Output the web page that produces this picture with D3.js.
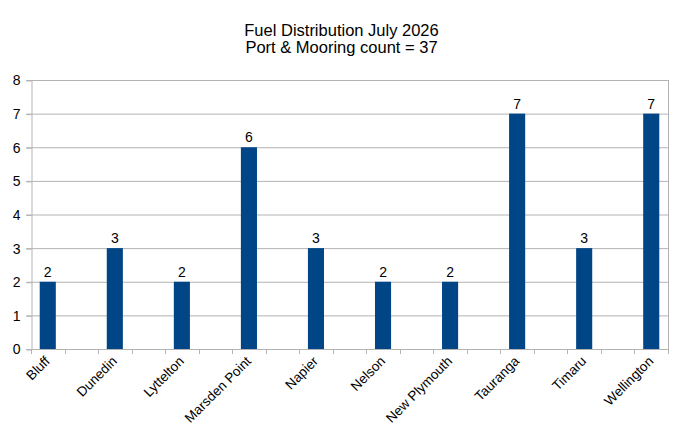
<!DOCTYPE html>
<html>
<head>
<meta charset="utf-8">
<title>Fuel Distribution July 2026</title>
<style>
body {
  margin: 0;
  background: #fff;
}

svg {
  display: block;
  font-family: "Liberation Sans", Arial, sans-serif;
}

.grid line {
  stroke: #b3b3b3;
  stroke-width: 1px;
}

.axis path, .axis line {
  stroke: #b3b3b3;
}

.axis text {
  fill: #000;
}
</style>
<script src="https://d3js.org/d3.v7.min.js"></script>
</head>
<body>
<div id="result"></div>
<script>
var ports = ['Bluff', 'Dunedin', 'Lyttelton', 'Marsden Point', 'Napier', 'Nelson', 'New Plymouth', 'Tauranga', 'Timaru', 'Wellington']
var counts = [2, 3, 2, 6, 3, 2, 2, 7, 3, 7]
var yTicks = [0, 1, 2, 3, 4, 5, 6, 7, 8]
var titleLines = ['Fuel Distribution July 2026', 'Port & Mooring count = 37']

var width = 683, height = 439
var margin = {top: 80, right: 15, bottom: 90, left: 31}

var svg = d3.select('#result').append('svg').attr('width', width).attr('height', height)

// the sheet has an empty column between every port, so slots = ports + gaps
var slots = []
ports.forEach((p, i) => {
  slots.push(p)
  if (i < ports.length - 1) slots.push('gap' + i)
})

var x = d3.scaleBand().domain(slots).range([margin.left, width - margin.right])
var y = d3.scaleLinear().domain([0, 8]).range([height - margin.bottom, margin.top])

var barW = x.bandwidth() * 0.48

// title
svg.append('g').selectAll('text').data(titleLines).enter().append('text')
  .attr('x', width / 2)
  .attr('y', (d, i) => 36 + i * 17)
  .attr('text-anchor', 'middle')
  .attr('font-size', 16.5)
  .attr('fill', '#000')
  .text(d => d)

// grid
svg.append('g').attr('class', 'grid').selectAll('line').data(yTicks).enter().append('line')
  .attr('x1', margin.left - 5).attr('x2', width - margin.right)
  .attr('y1', d => y(d) + 0.5).attr('y2', d => y(d) + 0.5)

// right border of plot
svg.append('line')
  .attr('x1', width - margin.right + 0.5).attr('x2', width - margin.right + 0.5)
  .attr('y1', y(8)).attr('y2', y(0))
  .attr('stroke', '#b3b3b3')

// y axis
var yAxis = svg.append('g').attr('class', 'axis')
  .attr('transform', `translate(${margin.left + 0.5},0.5)`)
  .call(d3.axisLeft(y).tickValues(yTicks).tickSize(5).tickSizeOuter(0))
yAxis.selectAll('text').attr('font-size', 14).attr('font-family', '"Liberation Sans", Arial, sans-serif').attr('dx', -3)

// x axis: a tick at every slot boundary
var bounds = slots.map(s => x(s)).concat([width - margin.right])
var xg = svg.append('g').attr('class', 'axis')
xg.append('line')
  .attr('x1', margin.left).attr('x2', width - margin.right)
  .attr('y1', y(0) + 0.5).attr('y2', y(0) + 0.5)
xg.selectAll('.tick').data(bounds).enter().append('line')
  .attr('x1', d => Math.round(d) + 0.5).attr('x2', d => Math.round(d) + 0.5)
  .attr('y1', y(0)).attr('y2', y(0) + 5)

xg.selectAll('text').data(ports).enter().append('text')
  .attr('transform', d => `translate(${x(d) + x.bandwidth() / 2 + 3},${y(0) + 13}) rotate(-45)`)
  .attr('text-anchor', 'end')
  .attr('font-size', 13.5)
  .attr('fill', '#000')
  .text(d => d)

// bars
var data = ports.map((p, i) => ({port: p, value: counts[i]}))

svg.append('g').selectAll('rect').data(data).enter().append('rect')
  .attr('x', d => x(d.port) + (x.bandwidth() - barW) / 2)
  .attr('width', barW)
  .attr('y', d => y(d.value))
  .attr('height', d => y(0) - y(d.value))
  .attr('fill', '#004586')

svg.append('g').selectAll('text').data(data).enter().append('text')
  .attr('x', d => x(d.port) + x.bandwidth() / 2)
  .attr('y', d => y(d.value) - 5)
  .attr('text-anchor', 'middle')
  .attr('font-size', 14)
  .attr('fill', '#000')
  .text(d => d.value)
</script>
</body>
</html>
